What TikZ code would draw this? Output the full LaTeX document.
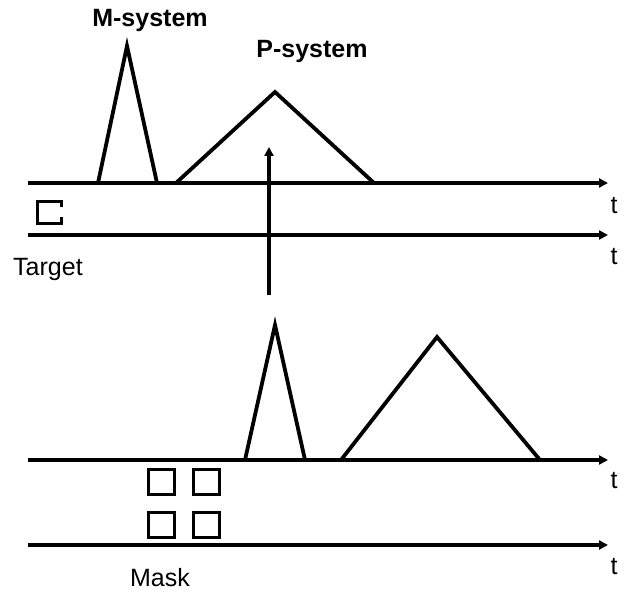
\documentclass[tikz,border=0pt]{standalone}
\usepackage{fontspec}
\setmainfont{Liberation Sans}
\usetikzlibrary{arrows.meta}
\begin{document}
\begin{tikzpicture}[x=1pt,y=-1pt,
  axis/.style={line width=3.8pt,-{Triangle[length=9pt,width=9pt]}},
  pulse/.style={line width=3.8pt,line join=miter},
  box/.style={line width=3pt},
  lbl/.style={font=\fontsize{25}{27}\selectfont,inner sep=0pt},
  title/.style={font=\fontsize{25}{27}\selectfont\bfseries,inner sep=0pt}]
\useasboundingbox (0,0) rectangle (624,593);
% axes
\coordinate (a1s) at (28,183); \coordinate (a1e) at (608,183);
\coordinate (a2s) at (28,235); \coordinate (a2e) at (608,235);
\coordinate (a3s) at (28,460); \coordinate (a3e) at (608,460);
\coordinate (a4s) at (28,545); \coordinate (a4e) at (608,545);
\draw[axis] (a1s) -- (a1e);
\draw[axis] (a2s) -- (a2e);
\draw[axis] (a3s) -- (a3e);
\draw[axis] (a4s) -- (a4e);
\node[lbl] (t1) at (614,206) {t};
\node[lbl] (t2) at (614,257) {t};
\node[lbl] (t3) at (614,481) {t};
\node[lbl] (t4) at (614,567) {t};
% upper pulses
\coordinate (m1a) at (98,183); \coordinate (m1b) at (127,46); \coordinate (m1c) at (157,183);
\draw[pulse] (m1a) -- (m1b) -- (m1c);
\coordinate (p1a) at (176,183); \coordinate (p1b) at (275,92); \coordinate (p1c) at (374,183);
\draw[pulse] (p1a) -- (p1b) -- (p1c);
\node[title] (ms) at (150,20) {M-system};
\node[title] (ps) at (312,51) {P-system};
% vertical arrow
\coordinate (vs) at (269,295); \coordinate (ve) at (269,147);
\draw[axis] (vs) -- (ve);
% target square (open on right)
\draw[box] (61,207) -- (61,202) -- (37,202) -- (37,224) -- (61,224) -- (61,217);
\node[lbl,anchor=west] (tg) at (13,269) {Target};
% lower pulses
\coordinate (m2a) at (245,460); \coordinate (m2b) at (275,325); \coordinate (m2c) at (305,460);
\draw[pulse] (m2a) -- (m2b) -- (m2c);
\coordinate (p2a) at (341,460); \coordinate (p2b) at (437,337); \coordinate (p2c) at (540,460);
\draw[pulse] (p2a) -- (p2b) -- (p2c);
% mask squares
\draw[box] (148,469) rectangle (174,494);
\draw[box] (193,469) rectangle (219,494);
\draw[box] (148,512) rectangle (174,537);
\draw[box] (193,512) rectangle (219,537);
\node[lbl] (mk) at (160,578) {Mask};
\end{tikzpicture}
\end{document}
